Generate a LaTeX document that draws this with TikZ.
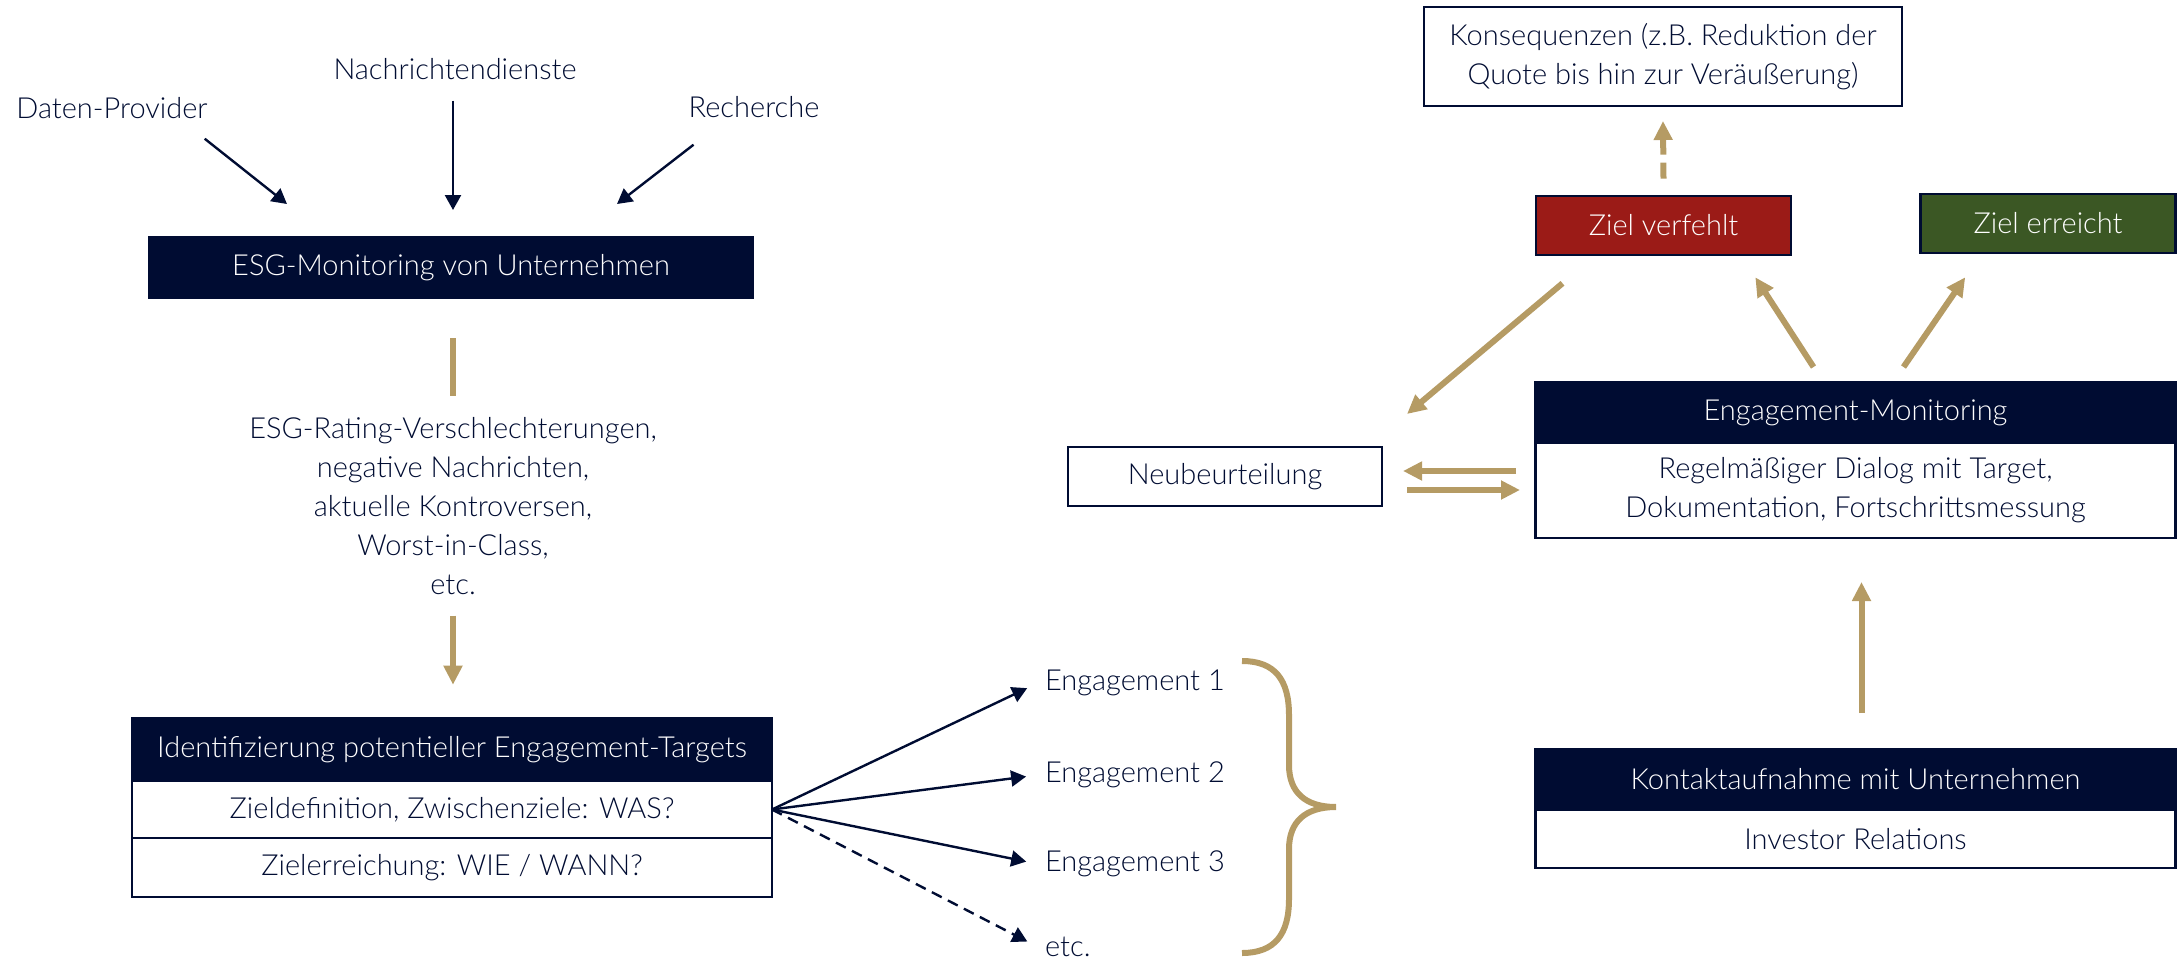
\documentclass[tikz,border=0pt]{standalone}
\usepackage{fontspec}
\setmainfont{Lato Light}
\usetikzlibrary{arrows.meta,calc,positioning}

\definecolor{navy}{RGB}{0,12,50}
\definecolor{gold}{RGB}{181,155,100}
\definecolor{zielrot}{RGB}{155,27,23}
\definecolor{zielgruen}{RGB}{59,87,36}

\tikzset{
  lbl/.style={text=navy, font=\fontsize{14.5}{19.5}\selectfont, align=center},
  kopf/.style={rectangle, fill=navy, draw=navy, line width=1.3pt, text=white, outer sep=0pt,
    font=\fontsize{14.5}{19.5}\selectfont, minimum width=320pt, minimum height=30.5pt, inner sep=0pt},
  zeile/.style={rectangle, fill=white, draw=navy, line width=1.3pt, text=navy, outer sep=0pt,
    font=\fontsize{14.5}{19.5}\selectfont, minimum width=320pt, minimum height=28.5pt, inner sep=0pt, align=center},
  ziel/.style={rectangle, draw=navy, line width=1.3pt, text=white,
    font=\fontsize{14.5}{19.5}\selectfont, minimum width=127.5pt, minimum height=29.5pt},
  darr/.style={draw=navy, line width=1.2pt, -{Triangle[length=7.5pt,width=8pt]}},
  garr/.style={draw=gold, line width=3pt, -{Triangle[length=9.5pt,width=9pt]}},
}

\begin{document}
\begin{tikzpicture}[x=0.5pt,y=-0.5pt]
  \useasboundingbox (0,0) rectangle (2180,958);

  % Quellen
  \node[lbl] (dp) at (112,108) {Daten-Provider};
  \node[lbl] (nd) at (455,69) {Nachrichtendienste};
  \node[lbl] (re) at (754,107) {Recherche};

  \node[kopf, minimum width=301.5pt] (esg) at (451,267.5) {ESG-Monitoring von Unternehmen};

  \coordinate (dpE) at (287,204);
  \coordinate (ndE) at (453,210);
  \coordinate (reE) at (617,204);
  \draw[darr] ($(dp.south east)+(-10,13)$) -- (dpE);
  \draw[darr] (ndE |- nd.south) ++(0,14) -- (ndE);
  \draw[darr] ($(re.south west)+(12,20)$) -- (reE);

  % Ausloeser
  \draw[draw=gold, line width=3pt] ($(esg.south)+(2,40)$) -- ++(0,58);
  \node[lbl] (trig) at (453,506) {ESG-Rating-Verschlechterungen,\\negative Nachrichten,\\aktuelle Kontroversen,\\Worst-in-Class,\\etc.};
  \draw[garr] ($(trig.south)+(0,14)$) -- ++(0,69);

  % Targets
  \node[kopf, minimum height=31.5pt, anchor=north] (id) at (452,718) {Identifizierung potentieller Engagement-Targets};
  \node[zeile, anchor=north] (was) at (id.south) {Zieldefinition, Zwischenziele: WAS?};
  \node[zeile, anchor=north, minimum height=29.5pt] (wie) at (was.south) {Zielerreichung: WIE / WANN?};

  % Engagements
  \node[lbl, anchor=west] (e1) at (1038,683) {Engagement 1};
  \node[lbl, anchor=west] (e2) at (1038,775) {Engagement 2};
  \node[lbl, anchor=west] (e3) at (1038,864) {Engagement 3};
  \node[lbl, anchor=west] (e4) at (1038,947) {etc.};
  \foreach \e in {e1,e2,e3}
    \draw[darr, shorten >=6pt] (was.east) -- (\e.west);
  \draw[darr, shorten >=6pt, dash pattern=on 5.5pt off 3.5pt] (was.east) -- (e4.west);

  % Klammer
  \draw[gold, line width=3pt] (1242,661) .. controls (1275,661) and (1289,680) .. (1289,715)
    -- (1289,765) .. controls (1289,792) and (1305,807) .. (1336,807)
    .. controls (1305,807) and (1289,822) .. (1289,849)
    -- (1289,899) .. controls (1289,934) and (1275,953) .. (1242,953);

  % rechte Seite
  \node[kopf, anchor=north] (kh) at (1855.5,749) {Kontaktaufnahme mit Unternehmen};
  \node[zeile, anchor=north, minimum height=29pt] (ir) at (kh.south) {Investor Relations};

  \node[kopf, anchor=north] (em) at (1855.5,382) {Engagement-Monitoring};
  \node[zeile, anchor=north, minimum height=47.5pt] (emb) at (em.south) {Regelmäßiger Dialog mit Target,\\Dokumentation, Fortschrittsmessung};

  \node[zeile, minimum width=157pt, minimum height=29.5pt] (neu) at (1225,476.5) {Neubeurteilung};
  \node[ziel, fill=zielrot] (zv) at (1663.5,225.5) {Ziel verfehlt};
  \node[ziel, fill=zielgruen] (ze) at (2048,223.5) {Ziel erreicht};
  \node[zeile, minimum width=239pt, minimum height=49.5pt] (kon) at (1663,56.5) {Konsequenzen (z.B. Reduktion der\\Quote bis hin zur Veräußerung)};

  \draw[garr] ($(kh.north)+(6,-36)$) -- ($(emb.south)+(6,44)$);
  \draw[garr] ($(em.north)+(-42,-15)$) -- ($(zv.south east)+(-37,21)$);
  \draw[garr] ($(em.north)+(48,-15)$) -- ($(ze.south west)+(46,23)$);
  \draw[garr] ($(zv.south)+(-101,27)$) -- ($(neu.north east)+(25,-33)$);
  \draw[garr] ($(neu.east)+(134,-5.5)$) -- ($(neu.east)+(21,-5.5)$);
  \draw[garr] ($(neu.east)+(25,13.5)$) -- ($(neu.east)+(138,13.5)$);
  \draw[garr, dash pattern=on 8pt off 4pt] ($(zv.north)+(0,-16)$) -- ($(kon.south)+(0,15)$);
\end{tikzpicture}
\end{document}
